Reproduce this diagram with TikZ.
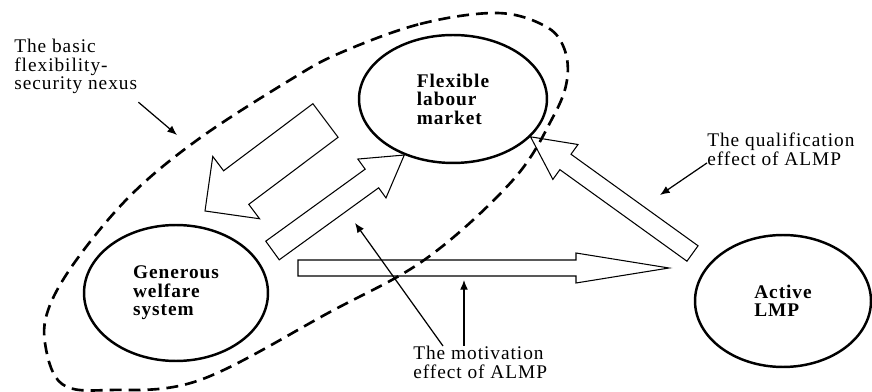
\documentclass[tikz,border=0pt]{standalone}
\usepackage{fontspec}
\setmainfont{Liberation Serif}[LetterSpace=5]
\usetikzlibrary{shapes.geometric,calc,arrows.meta}
\newcommand{\blockarrow}[5]{%
	\coordinate (hb) at ($(#2)!#5!(#1)$);
	\draw[block] ($(#1)!#3!90:(#2)$) -- ($(hb)!#3!90:(#2)$) -- ($(hb)!#4!90:(#2)$) -- (#2) -- ($(hb)!#4!-90:(#2)$) -- ($(hb)!#3!-90:(#2)$) -- ($(#1)!#3!-90:(#2)$) -- cycle;
}

\begin{document}
\begin{tikzpicture}[x=0.02cm, y=0.02cm,
		bubble/.style={draw, ellipse, line width=1.4pt, font=\fontsize{11}{10.5}\selectfont\bfseries, align=left, inner sep=0pt},
		note/.style={font=\fontsize{11}{10.5}\selectfont, align=left, inner sep=0pt, anchor=north west},
		block/.style={line width=0.6pt, line join=miter},
		pointer/.style={line width=0.7pt, -{Latex[length=5.5pt, width=4.5pt]}},
		nexus/.style={line width=1.5pt, dash pattern=on 6.8pt off 4pt}]
				\useasboundingbox (0, 0) rectangle (872, 392);
				\draw[nexus] plot[smooth cycle, tension=0.6] coordinates {(340, 339) (420, 368) (497, 379) (545, 366) (564, 344) (567, 312) (553, 275) (513, 212) (427, 134) (330, 80) (200, 12) (110, 2) (62, 8) (45, 49) (50, 87) (80, 137) (133, 199) (200, 254) (290, 312)};
				\node[bubble, minimum width=3.76cm, minimum height=2.56cm] (F)at(453, 293) {Flexible\\labour\\market};
				\node[bubble, minimum width=3.68cm, minimum height=2.72cm] (G)at(176, 99) {Generous\\welfare\\system};
				\node[bubble, minimum width=3.52cm, minimum height=2.64cm] (L)at(783, 91) {Active\\LMP};
				\node[note] (N)at(14, 353) {The basic\\flexibility-\\security nexus};
				\node[note] (Q)at(707, 259) {The qualification\\effect of ALMP};
				\node[note] (M)at(413, 46) {The motivation\\effect of ALMP};
				\coordinate (a1)at(325.5, 271.5);
				\coordinate (b1)at(205, 181);
				\coordinate (a2)at(272.5, 141.5);
				\coordinate (a3)at(298, 124);
				\coordinate (b3)at(669, 124);
				\coordinate (a4)at(692.5, 138.5);
				\blockarrow{a1}{b1}{0.42cm}{0.78cm}{0.78cm}
				\blockarrow{a2}{F.229}{0.23cm}{0.48cm}{0.8cm}
				\blockarrow{a3}{b3}{0.16cm}{0.30cm}{1.86cm}
				\blockarrow{a4}{F.-26}{0.19cm}{0.43cm}{0.86cm}
				\coordinate (n1)at(177, 257);
				\coordinate (q1)at(660, 197);
				\coordinate (m1)at(355, 169);
				\coordinate (m2)at(464, 112);
				\draw[pointer] ($(N.south east)+(1, -8)$) -- (n1);
				\draw[pointer] ($(Q.south west)+(0, 3)$) -- (q1);
				\draw[pointer] ($(M.north west)+(30, 0)$) -- (m1);
				\draw[pointer] ($(M.north west)+(51, 0)$) -- (m2);
\end{tikzpicture}
\end{document}
